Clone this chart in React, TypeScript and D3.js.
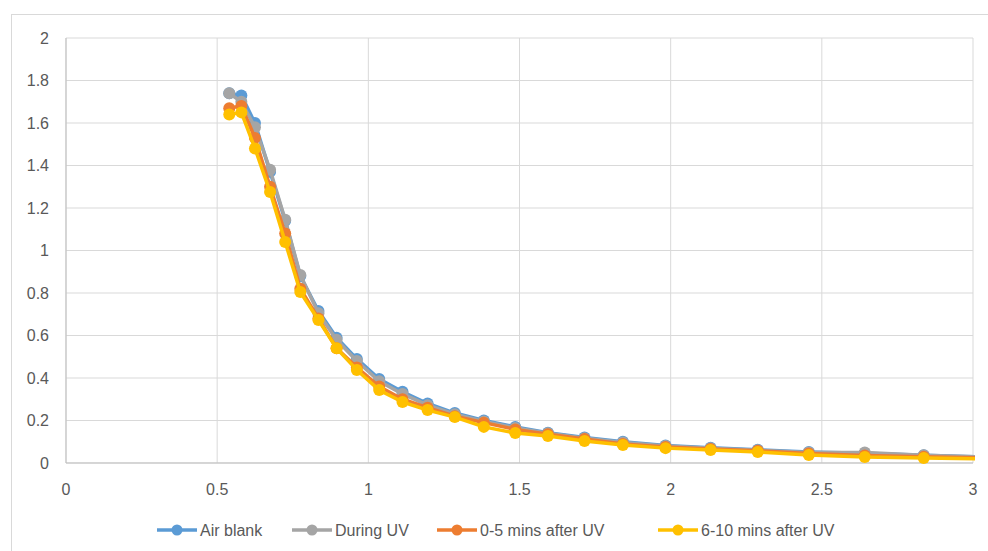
import React from "react";
import * as d3 from "d3";

// shared x positions (last point lies past the axis max and is clipped)
const xValues = [
  0.54, 0.58, 0.625, 0.675, 0.725, 0.775, 0.835, 0.895, 0.962, 1.036, 1.113,
  1.196, 1.286, 1.382, 1.486, 1.594, 1.715, 1.842, 1.983, 2.132, 2.288, 2.457,
  2.642, 2.837, 3.05,
];

const airBlank = [
  1.74, 1.73, 1.6, 1.37, 1.14, 0.88, 0.715, 0.59, 0.49, 0.395, 0.335, 0.28,
  0.235, 0.2, 0.17, 0.142, 0.12, 0.1, 0.082, 0.072, 0.062, 0.052, 0.046, 0.036,
  0.028,
];
const duringUV = [
  1.74, 1.7, 1.58, 1.38, 1.145, 0.885, 0.705, 0.58, 0.48, 0.385, 0.325, 0.272,
  0.23, 0.195, 0.165, 0.14, 0.117, 0.097, 0.08, 0.07, 0.06, 0.05, 0.05, 0.036,
  0.028,
];
const after0to5 = [
  1.67, 1.68, 1.53, 1.3, 1.08, 0.82, 0.68, 0.54, 0.45, 0.36, 0.3, 0.26, 0.22,
  0.19, 0.158, 0.135, 0.113, 0.09, 0.075, 0.066, 0.058, 0.045, 0.035, 0.03,
  0.024,
];
const after6to10 = [
  1.64, 1.65, 1.48, 1.275, 1.04, 0.805, 0.673, 0.54, 0.438, 0.343, 0.287,
  0.249, 0.216, 0.17, 0.141, 0.127, 0.104, 0.085, 0.07, 0.061, 0.052, 0.038,
  0.028, 0.024, 0.019,
];

const seriesNames = ["Air blank", "During UV", "0-5 mins after UV", "6-10 mins after UV"];
const seriesValues = [airBlank, duringUV, after0to5, after6to10];
const seriesColors = ["#5B9BD5", "#A5A5A5", "#ED7D31", "#FFC000"];

const xTicks = [0, 0.5, 1, 1.5, 2, 2.5, 3];
const yTicks = [0, 0.2, 0.4, 0.6, 0.8, 1, 1.2, 1.4, 1.6, 1.8, 2];

const W = 988;
const H = 551;
const margin = { left: 66, right: 15, top: 38, bottom: 88 };
const font = "'Liberation Sans', Arial, sans-serif";
const textColor = "#595959";

// legend item x positions (line start)
const legendX = [157, 292, 437, 658];

export default function App() {
  const x = d3.scaleLinear().domain([0, 3]).range([margin.left, W - margin.right]);
  const y = d3.scaleLinear().domain([0, 2]).range([H - margin.bottom, margin.top]);

  const line = d3
    .line<number>()
    .x((_, i) => x(xValues[i]))
    .y((d) => y(d));

  return (
    <svg
      width={W}
      height={H}
      style={{ position: "absolute", left: 0, top: 0, background: "#fff" }}
      fontFamily={font}
    >
      <defs>
        <clipPath id="plot">
          <rect x={x(0)} y={y(2) - 8} width={x(3) - x(0) + 2} height={y(0) - y(2) + 16} />
        </clipPath>
      </defs>
      {/* chart frame */}
      <rect x={11.5} y={14.5} width={W} height={H} fill="none" stroke="#D9D9D9" />

      {/* grid */}
      {yTicks.map((t) => (
        <line key={"gy" + t} x1={x(0)} x2={x(3)} y1={y(t)} y2={y(t)} stroke="#D9D9D9" />
      ))}
      {xTicks.map((t) => (
        <line key={"gx" + t} x1={x(t)} x2={x(t)} y1={y(0)} y2={y(2)} stroke="#D9D9D9" />
      ))}
      <line x1={x(0)} x2={x(0)} y1={y(0)} y2={y(2)} stroke="#BFBFBF" />
      <line x1={x(0)} x2={x(3)} y1={y(0)} y2={y(0)} stroke="#BFBFBF" />

      {/* y labels */}
      {yTicks.map((t) => (
        <text
          key={"ly" + t}
          x={49}
          y={y(t)}
          dy="0.35em"
          textAnchor="end"
          fontSize={16}
          fill={textColor}
        >
          {d3.format("~g")(t)}
        </text>
      ))}
      {/* x labels */}
      {xTicks.map((t) => (
        <text
          key={"lx" + t}
          x={x(t)}
          y={495}
          textAnchor="middle"
          fontSize={16}
          fill={textColor}
        >
          {d3.format("~g")(t)}
        </text>
      ))}

      {/* series */}
      <g clipPath="url(#plot)">
        {seriesValues.map((vals, s) => (
          <g key={seriesNames[s]}>
            <path
              d={line(vals) || ""}
              fill="none"
              stroke={seriesColors[s]}
              strokeWidth={3.5}
              strokeLinejoin="round"
            />
            {vals.map((v, i) =>
              xValues[i] <= 3 ? (
                <circle key={i} cx={x(xValues[i])} cy={y(v)} r={6} fill={seriesColors[s]} />
              ) : null
            )}
          </g>
        ))}
      </g>

      {/* legend */}
      {seriesNames.map((name, s) => (
        <g key={"leg" + name} transform={`translate(${legendX[s]},530)`}>
          <line x1={0} x2={40} y1={0} y2={0} stroke={seriesColors[s]} strokeWidth={3.5} />
          <circle cx={20} cy={0} r={5.5} fill={seriesColors[s]} />
          <text x={43} y={0} dy="0.35em" fontSize={16} fill={textColor}>
            {name}
          </text>
        </g>
      ))}
    </svg>
  );
}
